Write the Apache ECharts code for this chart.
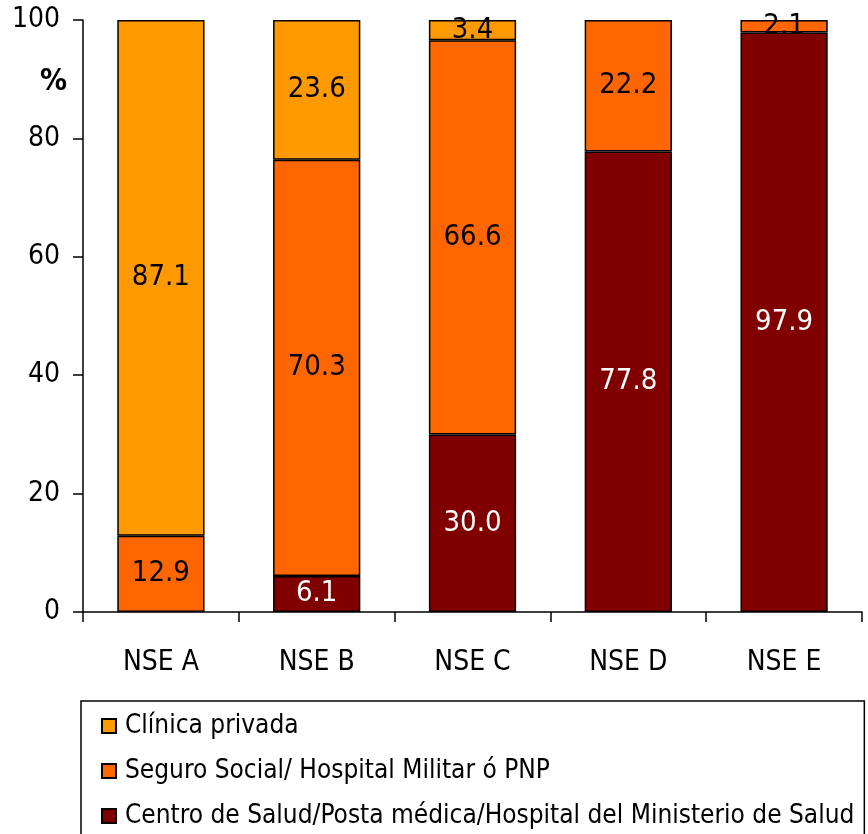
<!DOCTYPE html>
<html><head><meta charset="utf-8">
<script src="https://cdn.jsdelivr.net/npm/echarts@6/dist/echarts.min.js"></script>
<style>html,body{margin:0;padding:0;background:#fff}#c{width:868px;height:834px}</style>
</head><body><div id="c"></div>
<script>
const categories = ['NSE A','NSE B','NSE C','NSE D','NSE E'];
const seriesNames = ['Clínica privada','Seguro Social/ Hospital Militar ó PNP','Centro de Salud/Posta médica/Hospital del Ministerio de Salud'];
const clinica = [87.1, 23.6, 3.4, 0, 0];
const seguro = [12.9, 70.3, 66.6, 22.2, 2.1];
const centro = [0, 6.1, 30.0, 77.8, 97.9];
const yTicks = [0, 20, 40, 60, 80, 100];

const FONT = "'DejaVu Sans Condensed','Liberation Sans Narrow','Arial Narrow',sans-serif";
const chart = echarts.init(document.getElementById('c'));
function mk(name, data, color, labelColor) {
  return {
    name, type: 'bar', stack: 'a', data: data.map(v => v === 0 ? null : v),
    barWidth: '56%',
    itemStyle: { color, borderColor: '#000', borderWidth: 1.5 },
    label: { show: true, position: 'inside', color: labelColor, fontFamily: FONT, fontSize: 29,
      formatter: p => (p.value == null ? '' : Number(p.value).toFixed(1)) },
    emphasis: { disabled: true }
  };
}
chart.setOption({
  animation: false,
  textStyle: { fontFamily: FONT },
  grid: { left: 83, right: 6, top: 20, bottom: 222, containLabel: false },
  xAxis: {
    type: 'category', data: categories,
    axisLine: { lineStyle: { color: '#000', width: 1.5 } },
    axisTick: { show: true, length: 10, lineStyle: { color: '#000', width: 1.5 } },
    axisLabel: { color: '#000', fontFamily: FONT, fontSize: 28, margin: 37 }
  },
  yAxis: {
    type: 'value', min: yTicks[0], max: yTicks[yTicks.length-1], interval: 20,
    axisLine: { show: true, lineStyle: { color: '#000', width: 1.5 } },
    axisTick: { show: true, length: 10, lineStyle: { color: '#000', width: 1.5 } },
    splitLine: { show: false },
    axisLabel: { color: '#000', fontFamily: FONT, fontSize: 28, margin: 23 }
  },
  graphic: [{ type: 'text', left: 40, top: 67, style: { text: '%', fontFamily: FONT, fontSize: 30, fontWeight: 'bold', fill: '#000' } }],
  legend: {
    orient: 'vertical', left: 81, top: 701, height: 300,
    data: seriesNames,
    itemWidth: 14, itemHeight: 14, itemGap: 19,
    borderColor: '#000', borderWidth: 1.5,
    padding: [12, 10, 30, 20],
    textStyle: { color: '#000', fontFamily: FONT, fontSize: 26, padding: [0, 0, 0, 4] },
    icon: 'rect'
  },
  series: [
    mk(seriesNames[2], centro, '#800000', '#fff'),
    mk(seriesNames[1], seguro, '#FF6600', '#000'),
    mk(seriesNames[0], clinica, '#FF9900', '#000')
  ]
});
</script></body></html>
